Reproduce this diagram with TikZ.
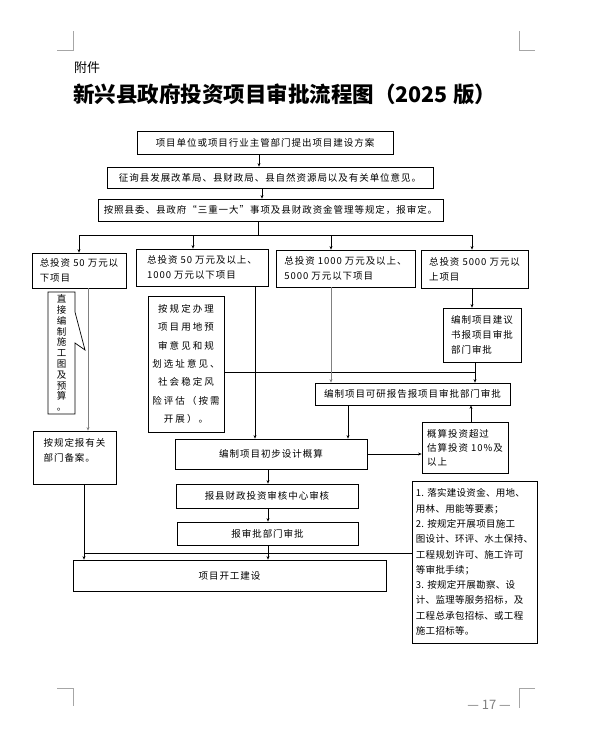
\documentclass[tikz,border=0pt]{standalone}
\usepackage{fontspec}
\setmainfont{Noto Sans CJK SC}
\newfontfamily\boxfont{Noto Sans CJK SC}[LetterSpace=10]
\newfontfamily\widefont{Noto Sans CJK SC}[LetterSpace=22]
\newfontfamily\nfont{Noto Sans CJK SC}[LetterSpace=3]
\usetikzlibrary{arrows.meta}
\begin{document}
\begin{tikzpicture}[x=1pt,y=-1pt,
  box/.style={draw, line width=0.8pt, inner sep=2pt, align=center,
    font=\boxfont\fontsize{9.5}{15}\selectfont},
  lbox/.style={box, align=left},
  arr/.style={-{Stealth[length=3.5pt,width=3pt]}, line width=0.7pt},
  con/.style={line width=0.7pt},
  garr/.style={arr, draw=gray},
  cornermark/.style={draw=gray!70, line width=0.8pt}]
\useasboundingbox (0,0) rectangle (589,730);

% page corner marks
\draw[cornermark] (57,50) -- (73.5,50) -- (73.5,31);
\draw[cornermark] (535,50) -- (519,50) -- (519,31);
\draw[cornermark] (57,688) -- (73.5,688) -- (73.5,706);
\draw[cornermark] (535,688) -- (519,688) -- (519,708);

% heading
\node[anchor=west, inner sep=0, font=\fontsize{13}{13}\selectfont] (fj) at (74,68) {附件};
\node[anchor=west, inner sep=0, font=\fontsize{21.5}{22}\selectfont\bfseries] (title) at (73,94) {新兴县政府投资项目审批流程图（2025 版）};

% page number
\node[inner sep=0, text=gray, font=\fontsize{13}{13}\selectfont] (pg) at (489,705) {— 17 —};

% boxes
\node[box, minimum width=256pt, minimum height=23pt] (b1) at (265,142.5) {项目单位或项目行业主管部门提出项目建设方案};
\node[box, minimum width=326pt, minimum height=21pt] (b2) at (270,177.5) {征询县发展改革局、县财政局、县自然资源局以及有关单位意见。};
\node[box, minimum width=345pt, minimum height=22pt] (b3) at (270.5,210) {按照县委、县政府“三重一大”事项及县财政资金管理等规定，报审定。};

\node[lbox, minimum width=94pt, minimum height=35pt] (A) at (79,270.5) {总投资 50 万元以\\下项目};
\node[lbox, minimum width=132pt, minimum height=37pt] (B) at (202,267.5) {总投资 50 万元及以上、\\1000 万元以下项目};
\node[lbox, minimum width=139pt, minimum height=37pt] (C) at (345.5,268.5) {总投资 1000 万元及以上、\\5000 万元以下项目};
\node[lbox, minimum width=107pt, minimum height=38pt] (D) at (474.5,269) {总投资 5000 万元以\\上项目};

\node[lbox, minimum width=83pt, minimum height=53pt] (E) at (74.5,457.5) {按规定报有关\\部门备案。\\~};
\node[box, minimum width=76pt, minimum height=136pt, font=\widefont\fontsize{9.5}{18.3}\selectfont] (F) at (186,364)
  {按规定办理\\项目用地预\\审意见和规\\划选址意见、\\社会稳定风\\险评估（按需\\开展）。};
\node[lbox, minimum width=78pt, minimum height=54pt] (H) at (482,335) {编制项目建议\\书报项目审批\\部门审批};
\node[box, minimum width=195pt, minimum height=22pt] (I) at (412.5,394) {编制项目可研报告报项目审批部门审批};
\node[box, minimum width=192pt, minimum height=30pt] (G) at (271,454) {编制项目初步设计概算};
\node[lbox, minimum width=86pt, minimum height=51pt, font=\boxfont\fontsize{9.5}{14}\selectfont] (J) at (465,447.5) {概算投资超过\\估算投资 10\%及\\以上};
\node[box, minimum width=182pt, minimum height=24pt] (K) at (267,496) {报县财政投资审核中心审核};
\node[box, minimum width=181pt, minimum height=23pt] (L) at (267.5,533.5) {报审批部门审批};
\node[box, minimum width=313pt, minimum height=31pt] (M) at (229.5,575.5) {项目开工建设};
\node[lbox, minimum width=125pt, minimum height=162pt, font=\nfont\fontsize{9.5}{15.3}\selectfont] (N) at (474.5,562)
  {1. 落实建设资金、用地、\\用林、用能等要素；\\2. 按规定开展项目施工\\图设计、环评、水土保持、\\工程规划许可、施工许可\\等审批手续；\\3. 按规定开展勘察、设\\计、监理等服务招标，及\\工程总承包招标、或工程\\施工招标等。};

% callout with vertical text
\draw[con] (48,292) -- (75,292) -- (75,312) -- (85,350) -- (75,343) -- (75,414) -- (48,414) -- cycle;
\node[inner sep=0, align=center, font=\fontsize{9.5}{10.8}\selectfont] (call) at (61.5,353)
  {直\\接\\编\\制\\施\\工\\图\\及\\预\\算\\。};

% x positions of connectors
\coordinate (x259) at (259,0);
\coordinate (x262) at (262,0);
\coordinate (hub) at (258,235);
\coordinate (xb) at (193,0);
\coordinate (xc) at (331,0);
\coordinate (xd) at (472,0);
\coordinate (x88) at (88,0);
\coordinate (x84) at (84,0);
\coordinate (x255) at (255,0);
\coordinate (x475) at (475,0);
\coordinate (x348) at (348,0);
\coordinate (x471) at (471,0);
\coordinate (x268) at (268,0);
\coordinate (j372) at (475,372);
\coordinate (j553) at (84,553);

% connectors
\draw[arr] (b1.south -| x259) -- (b2.north -| x259);
\draw[arr] (b2.south -| x262) -- (b3.north -| x262);
\draw[con] (b3.south -| hub) -- (hub);
\draw[arr] (hub) -| (A.north);
\draw[arr] (hub) -| (B.north -| xb);
\draw[arr] (hub) -| (C.north -| xc);
\draw[arr] (hub) -| (D.north -| xd);

\draw[garr] (A.south -| x88) -- (E.north -| x88);
\draw[arr] (E.south -| x84) -- (M.north -| x84);
\draw[con] (N.west |- j553) -- (j553);

\draw[arr] (B.south -| x255) -- (G.north -| x255);
\draw[con] (F.east |- j372) -- (j372);
\draw[arr] (D.south -| xd) -- (H.north -| xd);
\draw[arr] (H.south -| x475) -- (I.north -| x475);
\draw[garr] (C.south -| xc) -- (I.north -| xc);
\draw[arr] (I.south -| x348) -- (G.north -| x348);
\draw[arr] (G.east) -- (J.west |- G.east);
\draw[arr] (J.north -| x471) -- (I.south -| x471);
\draw[arr] (G.south -| x268) -- (K.north -| x268);
\draw[arr] (K.south -| x268) -- (L.north -| x268);
\draw[arr] (L.south -| x268) -- (M.north -| x268);
\end{tikzpicture}
\end{document}
